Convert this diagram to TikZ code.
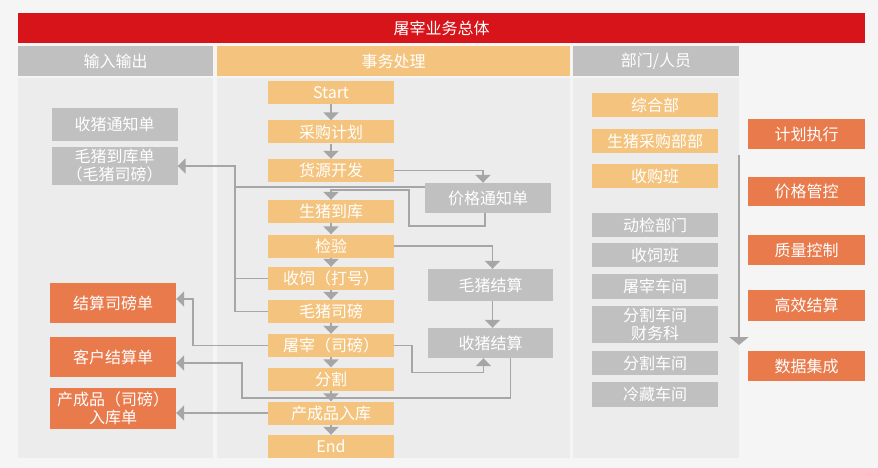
\documentclass[tikz,border=0pt]{standalone}
\usepackage{fontspec}
\setmainfont{Noto Sans CJK SC}
\usepackage{xcolor}
\usetikzlibrary{arrows.meta}
\definecolor{bannerred}{RGB}{214,20,26}
\definecolor{flowtan}{RGB}{244,196,126}
\definecolor{boxgray}{RGB}{192,192,192}
\definecolor{deeporange}{RGB}{233,122,76}
\definecolor{panelgray}{RGB}{236,236,237}
\definecolor{pagegray}{RGB}{245,245,246}
\definecolor{linegray}{RGB}{166,166,166}

\begin{document}
\begin{tikzpicture}[x=1pt, y=-1pt,
  cell/.style={inner sep=0pt, text=white, align=center, font=\fontsize{16}{18}\selectfont},
  flowcell/.style={cell, fill=flowtan, minimum width=126pt, minimum height=23pt},
  doccell/.style={cell, fill=boxgray, minimum width=126pt},
  hotcell/.style={cell, fill=deeporange, minimum width=126pt},
  headcell/.style={cell, minimum height=30pt},
  link/.style={linegray, line width=1.7pt},
  flowarrow/.style={-{Triangle[width=15pt,length=8pt]}}]
  \useasboundingbox (0,0) rectangle (878,468);
  \fill[pagegray] (0,0) rectangle (878,468);
  % banner and column headers
  \node[headcell, fill=bannerred, minimum width=847pt] (title) at (441.5,28) {屠宰业务总体};
  \node[headcell, fill=boxgray, minimum width=195pt] (hio) at (115.5,61) {输入输出};
  \node[headcell, fill=flowtan, minimum width=353pt] (hflow) at (393.5,61) {事务处理};
  \node[headcell, fill=boxgray, minimum width=166pt] (hdept) at (656,61) {部门/人员};
  \fill[panelgray] (18,78) rectangle (213,458);
  \fill[panelgray] (217,78) rectangle (570,458);
  \fill[panelgray] (573,78) rectangle (739,458);

  % Left: documents in and out
  \node[doccell, minimum height=33pt] (notice) at (114.5,124.5) {收猪通知单};
  \node[doccell, minimum height=38pt] (pigin) at (114.5,166) {毛猪到库单\\（毛猪司磅）};
  \node[hotcell, minimum height=40pt] (weighbill) at (113,303) {结算司磅单};
  \node[hotcell, minimum height=40pt] (custbill) at (113,357) {客户结算单};
  \node[hotcell, minimum height=41pt] (prodbill) at (113,408.5) {产成品（司磅）\\入库单};

  % Middle: main flow
  \node[flowcell] (start) at (331,92.5) {Start};
  \node[flowcell] (plan) at (331,132) {采购计划};
  \node[flowcell] (source) at (331,170.5) {货源开发};
  \node[flowcell] (arrive) at (331,211.5) {生猪到库};
  \node[flowcell] (inspect) at (331,246) {检验};
  \node[flowcell] (feed) at (331,278.5) {收饲（打号）};
  \node[flowcell] (weigh) at (331,311.5) {毛猪司磅};
  \node[flowcell] (slaughter) at (331,345.5) {屠宰（司磅）};
  \node[flowcell] (cut) at (331,379) {分割};
  \node[flowcell] (store) at (331,413) {产成品入库};
  \node[flowcell] (end) at (331,446.5) {End};
  \node[doccell, minimum height=30pt] (price) at (488,198) {价格通知单};
  \node[doccell, minimum width=125pt, minimum height=32pt] (hogpay) at (490.5,285) {毛猪结算};
  \node[doccell, minimum width=125pt, minimum height=30pt] (settle) at (490.5,343) {收猪结算};

  \foreach \a/\b in {start/plan, plan/source, arrive/inspect, inspect/feed, feed/weigh,
                     weigh/slaughter, slaughter/cut, cut/store, store/end}
    \draw[link, flowarrow] (\a) -- (\b);

  \draw[link, flowarrow] (source.east) -| ([xshift=-5pt]price.north);
  \draw[link, flowarrow] ([xshift=-3pt]price.south) -- ++(0,13) -| (409,190) -| (arrive.north);
  \coordinate (iobus) at (235,166);
  \draw[link, flowarrow] (weigh.west) -| (iobus) -- (pigin.east);
  \draw[link] (feed.west) -- (feed.west -| iobus);
  \draw[link] ([yshift=11pt]price.west) -- ([yshift=11pt]price.west -| iobus);
  \draw[link, flowarrow] (inspect.east) -| ([xshift=2pt]hogpay.north);
  \draw[link, flowarrow] ([xshift=2pt]hogpay.south) -- ([xshift=2pt]settle.north);
  \draw[link, flowarrow] (slaughter.east) -- ++(18,0) -- ++(0,27) -| ([xshift=-7pt]settle.south);
  \draw[link, flowarrow] ([xshift=20pt]settle.south) |- (242,398) |- ([yshift=-6pt]custbill.east);
  \draw[link, flowarrow] (slaughter.west) -- ++(-75,0) |- ([yshift=4pt]weighbill.east);
  \draw[link, flowarrow] (store.west) -- (store.west -| prodbill.east);

  % Right: departments
  \node[cell, fill=flowtan, minimum width=126pt, minimum height=24pt] (general) at (655,105) {综合部};
  \node[cell, fill=flowtan, minimum width=126pt, minimum height=24pt] (buydept) at (655,141) {生猪采购部部};
  \node[cell, fill=flowtan, minimum width=126pt, minimum height=24pt] (buyteam) at (655,176) {收购班};
  \node[doccell, minimum height=24pt] (vetdept) at (655,225) {动检部门};
  \node[doccell, minimum height=24pt] (feedteam) at (655,255) {收饲班};
  \node[doccell, minimum height=25pt] (killshop) at (655,286.5) {屠宰车间};
  \node[doccell, minimum height=37pt] (finance) at (655,324.5) {分割车间\\财务科};
  \node[doccell, minimum height=24pt] (cutshop) at (655,363) {分割车间};
  \node[doccell, minimum height=25pt] (coldshop) at (655,394.5) {冷藏车间};
  \coordinate (deptarrowtop) at (739,155);
  \coordinate (deptarrowend) at (739,345);
  \draw[link, -{Triangle[width=19pt,length=8pt]}] (deptarrowtop) -- (deptarrowend);

  % Far right: goals
  \node[hotcell, minimum width=117pt, minimum height=30pt] (goalplan) at (806.5,134) {计划执行};
  \node[hotcell, minimum width=117pt, minimum height=29pt] (goalprice) at (806.5,191.5) {价格管控};
  \node[hotcell, minimum width=117pt, minimum height=30pt] (goalquality) at (806.5,250) {质量控制};
  \node[hotcell, minimum width=117pt, minimum height=31pt] (goalsettle) at (806.5,305.5) {高效结算};
  \node[hotcell, minimum width=117pt, minimum height=30pt] (goaldata) at (806.5,366) {数据集成};
\end{tikzpicture}
\end{document}
